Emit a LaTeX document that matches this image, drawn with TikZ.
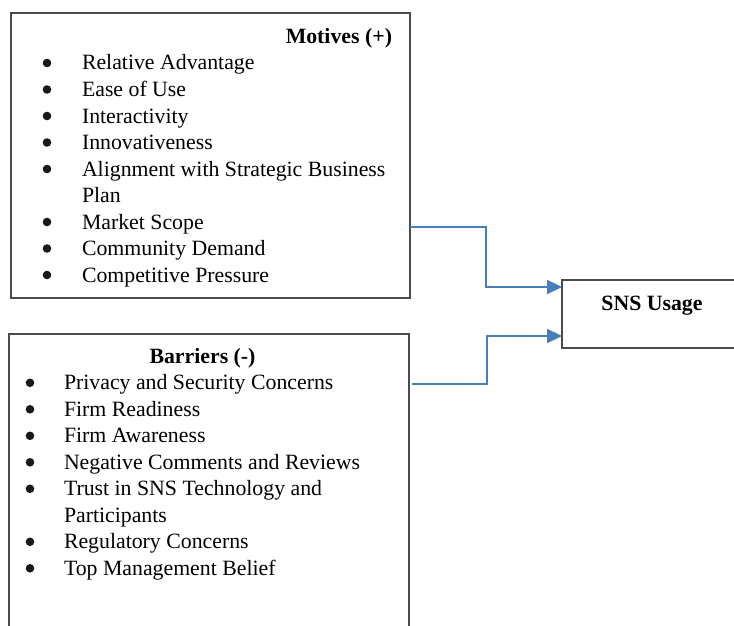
\documentclass[tikz,border=0pt]{standalone}
\usepackage{fontspec}
\setmainfont{Liberation Serif}
\usetikzlibrary{arrows.meta}
\definecolor{linkblue}{HTML}{4A7EBB}
\definecolor{framegray}{HTML}{4A4A4A}
\begin{document}
\begin{tikzpicture}[x=1pt,y=-1pt,
  every node/.style={inner sep=0pt,outer sep=0pt},
  box/.style={draw=framegray,line width=1.2pt,rectangle},
  item/.style={anchor=base west,font=\fontsize{21.8}{26.5}\selectfont},
  head/.style={font=\fontsize{21.8}{26.5}\selectfont\bfseries},
  bul/.style={circle,fill=black!90,minimum size=8.6pt},
  conn/.style={draw=linkblue,line width=2.2pt,-{Triangle[length=15pt,width=14pt]}}]
\useasboundingbox[fill=white] (0,0) rectangle (734,626);

% frames
\node[box,minimum width=399pt,minimum height=285pt] (motives) at (210.5,155.5) {};
\node[box,minimum width=400pt,minimum height=330pt] (barriers) at (209,499) {};
\node[box,minimum width=200pt,minimum height=68pt] (sns) at (662,314) {};

% headings
\node[head,anchor=base east] (mhead) at (392,44) {Motives (+)};
\node[head,anchor=base] (bhead) at (202.5,363) {Barriers (-)};
\node[head,anchor=base] (shead) at (652,310) {SNS Usage};

% motives list
\foreach \t/\y [count=\i] in {Relative Advantage/70,Ease of Use/96.5,Interactivity/123,
    Innovativeness/149.5,Alignment with Strategic Business/176,Market Scope/229,
    Community Demand/255.5,Competitive Pressure/282}{
  \node[bul] (mb\i) at (47,\y-7) {};
  \node[item] (mi\i) at (82,\y) {\t};
}
\node[item] (mi5b) at (82,202.5) {Plan};

% barriers list
\foreach \t/\y [count=\i] in {Privacy and Security Concerns/389.5,Firm Readiness/416,
    Firm Awareness/442.5,Negative Comments and Reviews/469,Trust in SNS Technology and/495.5,
    Regulatory Concerns/548.5,Top Management Belief/575}{
  \node[bul] (bb\i) at (30,\y-6.7) {};
  \node[item] (bi\i) at (64,\y) {\t};
}
\node[item] (bi5b) at (64,522) {Participants};

% connectors
\draw[conn] ([yshift=71pt]motives.south east) -- ++(76,0) |- ([yshift=27pt]sns.west);
\draw[conn] ([xshift=3pt,yshift=-50pt]barriers.north east) -- ++(75,0) |- ([yshift=-22pt]sns.west);
\end{tikzpicture}
\end{document}
